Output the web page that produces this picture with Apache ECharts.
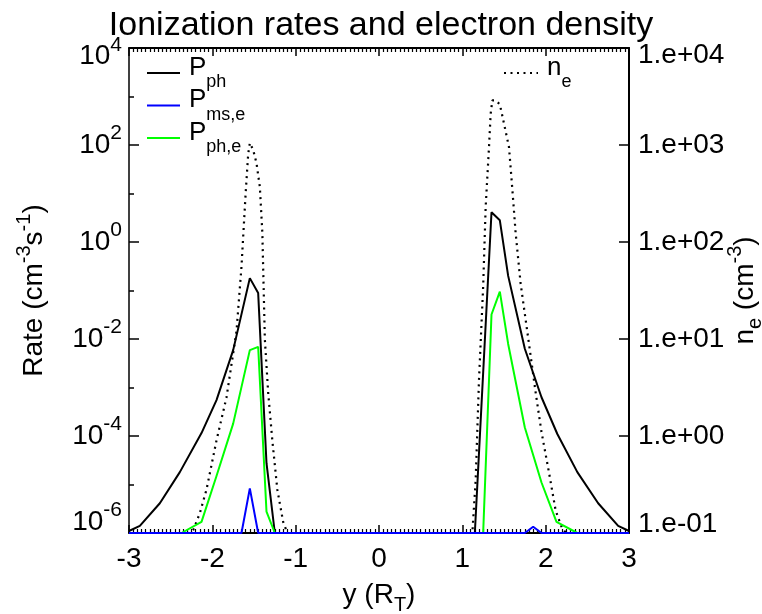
<!DOCTYPE html>
<html><head><meta charset="utf-8">
<script src="https://cdn.jsdelivr.net/npm/echarts@6/dist/echarts.min.js"></script>
<style>html,body{margin:0;padding:0;background:#fff}#c{width:762px;height:614px}</style>
</head><body><div id="c"></div>
<script>
const FONT = '"Liberation Sans", Arial, Helvetica, sans-serif';

// ---- data: [y (R_T), value] ----
const P_ph = [
  [-3.00, 1.1e-6], [-2.87, 1.4e-6], [-2.63, 4.1e-6], [-2.39, 1.8e-5], [-2.13, 1.15e-4],
  [-1.95, 5.5e-4], [-1.75, 5.9e-3], [-1.55, 0.18], [-1.45, 0.089], [-1.35, 2.75e-5],
  [-1.25, 1.0e-6], [1.15, 1.0e-6], [1.35, 4.1], [1.45, 2.8], [1.55, 0.2], [1.75, 6.3e-3],
  [1.95, 6.3e-4], [2.14, 1.1e-4], [2.38, 1.8e-5], [2.63, 4.1e-6], [2.87, 1.4e-6], [3.00, 1.1e-6]
];
const P_ms_e = [
  [-3.00, 1e-6], [-1.65, 1e-6], [-1.55, 8.3e-6], [-1.45, 1e-6], [1.75, 1e-6],
  [1.85, 1.35e-6], [1.95, 1e-6], [3.00, 1e-6]
];
const P_ph_e = [
  [-3.00, 1e-6], [-2.37, 1e-6], [-2.13, 1.7e-6], [-1.95, 1.5e-5], [-1.75, 1.8e-4],
  [-1.55, 5.9e-3], [-1.45, 6.9e-3], [-1.35, 2.75e-6], [-1.25, 1e-6], [1.25, 1e-6],
  [1.35, 0.032], [1.45, 0.095], [1.55, 7.9e-3], [1.75, 1.5e-4], [1.95, 1.1e-5],
  [2.13, 1.7e-6], [2.38, 1e-6], [3.00, 1e-6]
];
const n_e = [
  [-3.00, 0.1], [-2.28, 0.1], [-2.23, 0.107], [-2.15, 0.16], [-2.07, 0.28], [-1.95, 0.9],
  [-1.83, 2.5], [-1.71, 12], [-1.65, 56], [-1.60, 320], [-1.57, 800], [-1.55, 1050],
  [-1.51, 890], [-1.47, 650], [-1.43, 370], [-1.40, 125], [-1.37, 10], [-1.33, 2.8],
  [-1.28, 0.9], [-1.22, 0.28], [-1.15, 0.13], [-1.10, 0.1],
  [1.12, 0.1], [1.16, 0.35], [1.20, 3.8], [1.25, 35], [1.28, 230], [1.32, 950],
  [1.34, 2100], [1.36, 2880], [1.40, 2880], [1.45, 2630], [1.50, 1660], [1.56, 950],
  [1.60, 350], [1.64, 123], [1.70, 37], [1.80, 8.9], [1.88, 2.8], [1.95, 1.1],
  [2.04, 0.42], [2.12, 0.17], [2.20, 0.11], [2.25, 0.1], [3.00, 0.1]
];

// ---- tick labels ----
const xTickValues = [-3, -2, -1, 0, 1, 2, 3];
const xTickLabels = ['-3', '-2', '-1', '0', '1', '2', '3'];
const leftTickExps = [-6, -4, -2, 0, 2, 4];
const leftTickSups = ['-6', '-4', '-2', '0', '2', '4'];
const rightTickExps = [-1, 0, 1, 2, 3, 4];
const rightTickLabels = ['1.e-01', '1.e+00', '1.e+01', '1.e+02', '1.e+03', '1.e+04'];

const legendRich = {
  p: {fontFamily: FONT, fontSize: 26, lineHeight: 26, verticalAlign: 'top', color: '#000', padding: [0, 0, 0, 4]},
  s: {fontFamily: FONT, fontSize: 18, verticalAlign: 'top', color: '#000', padding: [19, 0, 0, 0]}
};
const legendNames = {
  'P_ph': '{p|P}{s|ph}',
  'P_ms,e': '{p|P}{s|ms,e}',
  'P_ph,e': '{p|P}{s|ph,e}',
  'n_e': '{p|n}{s|e}'
};

const tickLine = {color: '#000', width: 1.5};
const hiddenSymbol = {color: 'rgba(0,0,0,0)', opacity: 0, borderWidth: 0};

const option = {
  animation: false,
  backgroundColor: '#fff',
  title: {
    text: 'Ionization rates and electron density',
    left: 'center', top: 3,
    textStyle: {fontFamily: FONT, fontSize: 34, fontWeight: 'normal', color: '#000', lineHeight: 36}
  },
  legend: [
    {
      data: ['P_ph', 'P_ms,e', 'P_ph,e'], orient: 'vertical', left: 146, top: 54.5,
      padding: 0, itemWidth: 33, itemHeight: 2, itemGap: -4.5, selectedMode: false,
      itemStyle: hiddenSymbol,
      formatter: n => legendNames[n], textStyle: {rich: legendRich}
    },
    {
      data: ['n_e'], orient: 'vertical', left: 503, top: 54.5,
      padding: 0, itemWidth: 34, itemHeight: 2, selectedMode: false,
      itemStyle: hiddenSymbol,
      formatter: n => legendNames[n], textStyle: {rich: legendRich}
    }
  ],
  grid: {left: 129, right: 133, top: 48, bottom: 81, containLabel: false, outerBoundsMode: 'none'},
  xAxis: [
    {
      type: 'value', min: -3, max: 3, interval: 1, position: 'bottom',
      axisLine: {show: true, onZero: false, lineStyle: {color: '#000', width: 2}},
      axisTick: {show: true, inside: true, length: 8, lineStyle: tickLine},
      minorTick: {show: true, splitNumber: 20, length: 4, lineStyle: {color: '#000', width: 1.2}},
      splitLine: {show: false},
      axisLabel: {
        margin: 12, fontFamily: FONT, fontSize: 28, lineHeight: 28, color: '#000',
        formatter: v => xTickLabels[xTickValues.indexOf(Math.round(v))]
      },
      name: '{m|y (R}{sub|T}{m|)}', nameLocation: 'middle', nameGap: 42, nameMoveOverlap: false,
      nameTextStyle: {
        rich: {
          m: {fontFamily: FONT, fontSize: 28, lineHeight: 40, verticalAlign: 'middle', color: '#000'},
          sub: {fontFamily: FONT, fontSize: 20, verticalAlign: 'bottom', color: '#000'}
        }
      }
    },
    {
      type: 'value', min: -3, max: 3, interval: 1, position: 'top',
      axisLine: {show: true, onZero: false, lineStyle: {color: '#000', width: 2}},
      axisTick: {show: true, inside: true, length: 8, lineStyle: tickLine},
      minorTick: {show: true, splitNumber: 20, length: 4, lineStyle: {color: '#000', width: 1.2}},
      splitLine: {show: false},
      axisLabel: {show: false}
    }
  ],
  yAxis: [
    { // data axis for rates (log)
      type: 'log', logBase: 10, min: 1e-6, max: 1e4, position: 'left',
      axisLine: {show: true, onZero: false, lineStyle: {color: '#000', width: 1.5}},
      axisTick: {show: false}, axisLabel: {show: false}, splitLine: {show: false}
    },
    { // electron density (log)
      type: 'log', logBase: 10, min: 0.1, max: 1e4, splitNumber: 5, position: 'right',
      axisLine: {show: true, onZero: false, lineStyle: {color: '#000', width: 2}},
      axisTick: {show: true, inside: true, length: 10, lineStyle: tickLine},
      splitLine: {show: false},
      axisLabel: {
        margin: 9, color: '#000',
        formatter: v => {
          const n = Math.round(Math.log10(v));
          const t = rightTickLabels[rightTickExps.indexOf(n)];
          if (n === 4) return '{spT| }\n{r|' + t + '}';
          if (n === -1) return '{r|' + t + '}\n{spB| }';
          return '{r|' + t + '}';
        },
        rich: {
          r: {fontFamily: FONT, fontSize: 28, lineHeight: 30, color: '#000'},
          spT: {fontSize: 1, lineHeight: 14},
          spB: {fontSize: 1, lineHeight: 18}
        }
      },
      name: '{m|n}{sub|e}{m| (cm}{sup|-3}{m|)}', nameLocation: 'middle', nameRotate: 90, nameGap: 96,
      nameMoveOverlap: false,
      nameTextStyle: {
        rich: {
          m: {fontFamily: FONT, fontSize: 28, lineHeight: 40, verticalAlign: 'middle', color: '#000'},
          sub: {fontFamily: FONT, fontSize: 20, verticalAlign: 'bottom', color: '#000'},
          sup: {fontFamily: FONT, fontSize: 20, verticalAlign: 'top', color: '#000'}
        }
      }
    },
    { // minor decade ticks of the rate axis (exponent scale)
      type: 'value', min: -6, max: 4, interval: 1, position: 'left',
      axisLine: {show: false, onZero: false}, axisTick: {show: true, inside: true, length: 5, lineStyle: tickLine},
      axisLabel: {show: false}, splitLine: {show: false}
    },
    { // major ticks + labels of the rate axis (exponent scale)
      type: 'value', min: -6, max: 4, interval: 2, position: 'left',
      axisLine: {show: false, onZero: false}, axisTick: {show: true, inside: true, length: 10, lineStyle: tickLine},
      splitLine: {show: false},
      axisLabel: {
        margin: 7, color: '#000',
        formatter: v => {
          const n = Math.round(v);
          const sup = leftTickSups[leftTickExps.indexOf(n)];
          const core = '{b|10}{s|' + sup + '}';
          if (n === 4) return '{spT| }\n' + core;
          if (n === -6) return core + '\n{spB| }';
          return core;
        },
        rich: {
          b: {fontFamily: FONT, fontSize: 28, lineHeight: 44, verticalAlign: 'middle', color: '#000'},
          s: {fontFamily: FONT, fontSize: 21, verticalAlign: 'top', color: '#000'},
          spT: {fontSize: 1, lineHeight: 17},
          spB: {fontSize: 1, lineHeight: 22}
        }
      },
      name: '{m|Rate (cm}{sup|-3}{m|s}{sup|-1}{m|)}', nameLocation: 'middle', nameRotate: 90, nameGap: 75,
      nameMoveOverlap: false,
      nameTextStyle: {
        rich: {
          m: {fontFamily: FONT, fontSize: 28, lineHeight: 40, verticalAlign: 'middle', color: '#000'},
          sup: {fontFamily: FONT, fontSize: 20, verticalAlign: 'top', color: '#000'}
        }
      }
    }
  ],
  series: [
    {
      name: 'n_e', type: 'line', xAxisIndex: 0, yAxisIndex: 1, data: n_e,
      symbol: 'none', color: '#000',
      lineStyle: {color: '#000', width: 2.2, type: [2, 4.5]}
    },
    {
      name: 'P_ph', type: 'line', xAxisIndex: 0, yAxisIndex: 0, data: P_ph,
      symbol: 'none', color: '#000', lineStyle: {color: '#000', width: 2}
    },
    {
      name: 'P_ph,e', type: 'line', xAxisIndex: 0, yAxisIndex: 0, data: P_ph_e,
      symbol: 'none', color: '#00ff00', lineStyle: {color: '#00ff00', width: 2}
    },
    {
      name: 'P_ms,e', type: 'line', xAxisIndex: 0, yAxisIndex: 0, data: P_ms_e,
      symbol: 'none', color: '#0000ff', lineStyle: {color: '#0000ff', width: 2}
    }
  ]
};

const chart = echarts.init(document.getElementById('c'), null, {renderer: 'canvas'});
chart.setOption(option);
</script>
</body></html>
